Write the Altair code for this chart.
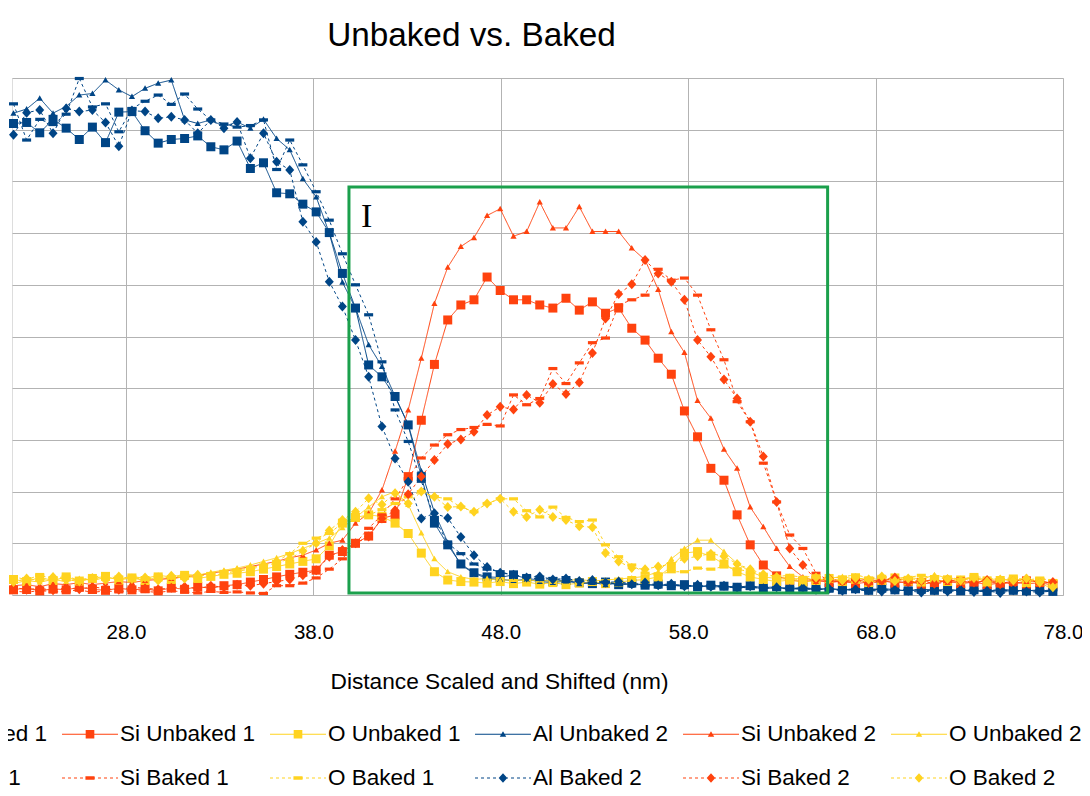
import altair as alt
import pandas as pd

# ---------------- data ----------------
distance_nm = [22.00, 22.70, 23.40, 24.11, 24.81, 25.51, 26.21, 26.91, 27.62, 28.32,
               29.02, 29.72, 30.42, 31.13, 31.83, 32.53, 33.23, 33.93, 34.64, 35.34,
               36.04, 36.74, 37.44, 38.15, 38.85, 39.55, 40.25, 40.95, 41.66, 42.36,
               43.06, 43.76, 44.46, 45.17, 45.87, 46.57, 47.27, 47.97, 48.68, 49.38,
               50.08, 50.78, 51.48, 52.19, 52.89, 53.59, 54.29, 54.99, 55.70, 56.40,
               57.10, 57.80, 58.50, 59.21, 59.91, 60.61, 61.31, 62.01, 62.72, 63.42,
               64.12, 64.82, 65.52, 66.23, 66.93, 67.63, 68.33, 69.03, 69.74, 70.44,
               71.14, 71.84, 72.54, 73.25, 73.95, 74.65, 75.35, 76.05, 76.76, 77.46]

al_unbaked_1 = [91.2, 91.4, 89.4, 92.0, 90.3, 88.1, 90.5, 87.5, 93.4, 93.5, 89.8, 87.4, 88.1, 88.3, 88.8, 86.7, 86.1, 87.8, 82.5, 83.6,
                77.8, 77.6, 75.6, 74.1, 70.1, 62.2, 55.5, 44.5, 42.2, 38.4, 32.9, 22.9, 13.9, 9.7, 6.0, 4.3, 3.5, 3.4, 3.9,
                3.2, 2.9, 2.6, 2.8, 2.4, 2.2, 2.5, 2.0, 2.3, 1.9, 2.1, 1.8, 2.0, 1.6, 1.9, 1.7, 1.5, 1.8, 1.4, 1.6,
                1.2, 1.5, 1.1, 1.3, 1.0, 1.2, 0.9, 1.3, 1.0, 0.8, 1.1, 0.9, 1.2, 0.8, 1.0, 0.7, 1.1, 0.9, 0.8, 1.0, 0.7]
si_unbaked_1 = [1.0, 1.4, 0.8, 1.2, 1.0, 1.5, 1.1, 0.9, 1.3, 1.0, 1.2, 0.8, 1.4, 1.1, 1.6, 1.3, 1.8, 2.0, 2.5, 3.0,
                3.5, 4.0, 4.4, 4.8, 7.7, 8.4, 10.0, 11.4, 14.8, 15.5, 22.9, 33.8, 44.6, 53.2, 56.1, 57.1, 61.5, 58.9, 57.1, 57.1,
                56.1, 55.5, 57.4, 55.1, 56.7, 54.5, 55.5, 51.6, 49.3, 45.8, 42.7, 35.6, 30.6, 24.5, 22.2, 15.5, 9.7, 5.8, 3.7, 2.9,
                2.6, 2.9, 2.4, 2.7, 2.2, 2.5, 2.8, 2.3, 2.6, 2.1, 2.4, 2.7, 2.2, 2.5, 2.0, 2.3, 2.6, 2.1, 2.4, 1.9]
o_unbaked_1 = [3.0, 2.6, 3.4, 2.8, 3.5, 2.7, 3.2, 3.6, 2.9, 3.3, 2.8, 3.5, 3.0, 3.8, 3.2, 3.6, 4.0, 4.2, 4.5, 5.0,
               5.5, 6.0, 6.5, 7.0, 9.5, 13.9, 15.0, 15.5, 15.2, 13.9, 11.9, 8.1, 4.5, 2.9, 2.6, 2.5, 2.3, 2.6, 2.2, 2.5,
               2.1, 2.4, 2.0, 2.3, 2.6, 2.2, 2.5, 2.8, 3.0, 3.5, 5.5, 8.1, 8.4, 7.5, 6.0, 4.5, 3.5, 3.0, 2.6, 2.9,
               2.5, 2.8, 3.2, 2.6, 3.0, 2.4, 2.8, 3.3, 2.7, 2.5, 3.0, 2.6, 2.9, 3.4, 2.5, 2.8, 3.1, 2.4, 2.7, 2.2]
al_unbaked_2 = [93.2, 94.0, 96.1, 93.2, 94.5, 96.7, 97.0, 99.6, 97.7, 96.4, 98.0, 99.0, 99.6, 91.9, 91.2, 91.9, 90.6, 91.5, 90.3, 92.0,
                88.3, 86.1, 80.5, 77.0, 70.0, 60.5, 55.5, 48.4, 44.2, 38.4, 33.0, 24.0, 16.0, 10.2, 5.8, 4.2, 3.2, 3.0,
                2.8, 3.0, 2.6, 2.4, 2.7, 2.2, 2.4, 2.0, 2.3, 1.9, 2.1, 1.7, 2.0, 1.6, 1.8, 1.5, 1.7, 1.3, 1.6, 1.2,
                1.4, 1.1, 1.3, 1.0, 1.2, 0.9, 1.1, 1.3, 0.9, 1.0, 0.8, 1.1, 0.9, 0.7, 1.0, 0.8, 0.6, 0.9, 0.7, 1.0, 0.6, 0.8]
si_unbaked_2 = [1.8, 2.0, 1.6, 2.2, 2.0, 2.4, 2.0, 2.3, 2.6, 2.4, 2.8, 3.0, 3.2, 3.5, 3.8, 4.2, 4.6, 5.0, 5.5, 6.0,
                6.5, 7.2, 7.7, 8.7, 10.0, 10.6, 13.9, 15.8, 20.3, 27.8, 35.8, 45.8, 56.4, 63.4, 67.4, 69.1, 73.4, 74.7, 69.4, 70.3,
                76.0, 71.0, 71.0, 75.1, 70.3, 70.3, 70.3, 67.1, 64.8, 59.1, 50.9, 46.9, 37.6, 34.2, 28.2, 24.5, 17.0, 13.2, 9.0, 5.5,
                3.5, 2.6, 2.9, 2.4, 2.7, 3.1, 2.5, 2.8, 2.2, 2.6, 3.0, 2.4, 2.7, 2.3, 2.9, 2.5, 2.1, 2.6, 2.8, 2.2]
o_unbaked_2 = [2.2, 2.8, 2.5, 3.0, 2.6, 3.2, 2.8, 3.4, 3.0, 3.6, 3.2, 3.8, 3.5, 4.0, 3.8, 4.4, 4.8, 5.2, 5.8, 6.5,
               7.2, 8.0, 9.0, 10.0, 11.0, 13.0, 15.0, 17.0, 19.0, 20.0, 17.5, 12.0, 7.0, 4.5, 3.5, 3.0, 3.2, 2.8, 3.0, 2.7,
               2.9, 2.6, 2.8, 3.0, 2.7, 2.9, 3.1, 3.3, 3.6, 4.5, 7.0, 9.0, 10.6, 10.6, 8.4, 6.1, 4.5, 3.5, 3.2, 3.0,
               3.3, 2.9, 3.2, 3.6, 3.0, 3.4, 2.8, 3.2, 3.5, 3.0, 3.9, 3.3, 3.0, 3.4, 2.9, 3.2, 2.7, 3.1, 2.5, 1.0]
al_baked_1 = [95.0, 88.0, 92.0, 91.0, 93.0, 99.9, 94.4, 95.0, 89.6, 94.1, 95.5, 96.7, 94.9, 96.9, 94.0, 91.9, 91.1, 90.5, 90.8, 91.9,
              82.3, 88.0, 83.2, 78.0, 72.5, 66.0, 60.0, 54.2, 45.1, 35.8, 29.7, 22.0, 15.0, 10.0, 8.0, 6.0, 5.0, 4.5,
              3.8, 3.5, 3.0, 3.2, 2.6, 2.8, 2.3, 2.5, 2.0, 2.2, 1.8, 2.1, 1.7, 1.9, 1.5, 1.8, 1.4, 1.6, 1.3, 1.5,
              1.2, 1.4, 1.0, 1.3, 0.9, 1.2, 1.0, 0.8, 1.1, 0.9, 1.2, 0.8, 1.0, 0.7, 0.9, 1.1, 0.8, 1.0, 0.7, 0.9, 0.8, 1.0]
si_baked_1 = [0.8, 0.5, 0.9, 0.6, 0.7, 1.0, 0.5, 0.8, 0.6, 0.9, 0.7, 0.5, 0.8, 0.6, 0.4, 0.7, 0.5, 0.6, 0.4, 0.3,
              1.8, 1.8, 2.3, 3.3, 5.0, 7.0, 10.0, 12.9, 15.5, 18.6, 22.5, 26.5, 29.0, 31.0, 32.0, 32.4, 33.0, 32.7, 38.7, 36.8,
              38.0, 43.8, 40.9, 44.9, 48.8, 49.7, 56.1, 57.1, 58.0, 63.0, 60.9, 61.3, 58.0, 51.3, 45.5, 37.4, 33.5, 25.5, 18.0, 11.6,
              9.0, 4.2, 2.8, 2.5, 3.0, 2.2, 2.7, 3.2, 2.4, 2.9, 2.1, 2.6, 3.1, 2.3, 2.8, 2.0, 2.5, 3.3, 2.2, 2.6]
o_baked_1 = [3.5, 3.0, 3.8, 3.2, 3.6, 2.9, 3.4, 3.9, 3.1, 3.5, 3.0, 3.7, 3.3, 3.9, 3.5, 4.1, 4.5, 4.8, 5.3, 5.8,
             6.5, 8.0, 10.0, 11.0, 11.9, 13.9, 14.5, 15.5, 16.5, 17.7, 19.0, 20.0, 19.0, 18.6, 17.0, 16.1, 17.7, 18.6, 18.6, 16.3,
             15.1, 17.0, 15.0, 14.2, 14.5, 9.7, 7.4, 5.8, 4.2, 4.0, 4.5, 4.5, 5.2, 5.0, 5.5, 5.0, 4.5, 4.0, 3.6, 3.8,
             3.4, 3.7, 3.2, 3.5, 3.9, 3.3, 3.6, 3.1, 3.4, 3.8, 3.2, 3.5, 3.0, 3.6, 3.3, 3.0, 3.4, 2.9, 3.2, 2.8]
al_baked_2 = [89.0, 93.3, 93.8, 89.3, 94.1, 93.5, 93.8, 91.4, 86.8, 93.7, 93.5, 92.2, 92.5, 91.9, 89.3, 91.9, 90.3, 91.5, 84.5, 89.3,
              83.8, 82.2, 72.2, 68.3, 60.6, 55.8, 49.3, 42.2, 32.6, 26.4, 21.9, 14.8, 15.8, 14.9, 11.2, 7.7, 5.4, 4.3, 3.9,
              3.4, 3.6, 3.0, 3.2, 2.7, 2.9, 2.4, 2.6, 2.1, 2.4, 1.9, 2.2, 1.7, 2.0, 1.6, 1.8, 1.4, 1.7, 1.3, 1.5,
              1.1, 1.4, 1.0, 1.2, 0.8, 1.1, 0.9, 0.7, 1.0, 0.8, 0.5, 0.9, 0.7, 1.0, 0.6, 0.8, 0.4, 0.9, 0.7, 0.5, 0.8]
si_baked_2 = [1.5, 1.0, 1.3, 0.9, 1.4, 1.1, 1.6, 1.2, 1.0, 1.5, 1.3, 1.1, 1.4, 1.6, 1.2, 1.8, 1.5, 2.0, 1.8, 2.2,
              2.6, 3.0, 3.8, 4.8, 7.4, 8.7, 10.0, 11.3, 14.8, 16.4, 19.5, 22.9, 26.1, 29.2, 30.1, 31.6, 34.8, 36.4, 35.9, 38.7,
              37.2, 40.8, 38.9, 41.1, 46.8, 53.5, 58.2, 60.1, 64.8, 62.2, 60.6, 57.1, 49.3, 46.1, 41.7, 38.0, 33.5, 26.8, 18.0, 9.0,
              5.8, 2.9, 3.2, 2.6, 2.9, 2.3, 2.8, 3.4, 2.5, 2.7, 2.2, 3.0, 2.6, 2.4, 2.9, 2.1, 2.7, 3.1, 2.3, 2.5]
o_baked_2 = [2.5, 3.2, 2.8, 3.5, 3.0, 2.6, 3.3, 2.9, 3.6, 3.1, 3.4, 2.8, 3.7, 3.2, 3.9, 3.6, 4.2, 4.6, 5.0, 5.6,
             6.2, 7.0, 8.5, 10.0, 12.5, 14.5, 16.1, 18.7, 17.5, 19.7, 17.7, 20.0, 19.0, 17.0, 17.1, 16.1, 17.7, 18.6, 16.1, 15.1,
             16.5, 15.1, 14.5, 13.3, 13.1, 8.1, 6.5, 5.2, 5.0, 5.5, 6.0, 7.0, 7.5, 8.0, 7.5, 6.0, 5.0, 4.0, 3.5, 3.2,
             2.9, 3.4, 3.1, 2.8, 3.3, 3.0, 3.6, 2.7, 3.2, 2.9, 3.4, 3.1, 2.8, 3.3, 2.6, 3.0, 2.8, 3.2, 2.4, 1.5]

series_names = ["Al Unbaked 1", "Si Unbaked 1", "O Unbaked 1",
                "Al Unbaked 2", "Si Unbaked 2", "O Unbaked 2",
                "Al Baked 1", "Si Baked 1", "O Baked 1",
                "Al Baked 2", "Si Baked 2", "O Baked 2"]
series_values = [al_unbaked_1, si_unbaked_1, o_unbaked_1,
                 al_unbaked_2, si_unbaked_2, o_unbaked_2,
                 al_baked_1, si_baked_1, o_baked_1,
                 al_baked_2, si_baked_2, o_baked_2]

x_ticks = [28.0, 38.0, 48.0, 58.0, 68.0, 78.0]
box_x = [39.9, 65.44]
box_y = [0.4, 78.9]
box_label = "I"
label_pos = [40.85, 73.2]

# ---------------- styling ----------------
element_colors = {"Al": "#004586", "Si": "#ff420e", "O": "#ffd320"}
colors = [element_colors[n.split()[0]] for n in series_names]
dashes = [[1, 0] if "Unbaked" in n else [3, 3] for n in series_names]

marker_paths_by_kind = {
    "U1": "M-0.9,-0.9H0.9V0.9H-0.9Z",
    "U2": "M0,-0.6L0.62,0.5H-0.62Z",
    "B1": "M-0.9,-0.32H0.9V0.32H-0.9Z",
    "B2": "M0,-1L0.9,0L0,1L-0.9,0Z",
}
legend_marker_by_kind = {
    "U1": "M-0.36,-0.36H0.36V0.36H-0.36Z",
    "U2": "M0,-0.25L0.27,0.2H-0.27Z",
    "B1": "M-0.38,-0.14H0.38V0.14H-0.38Z",
    "B2": "M0,-0.4L0.36,0L0,0.4L-0.36,0Z",
}


def kind(name):
    return ("U" if "Unbaked" in name else "B") + name[-1]


def legend_path(name):
    half = 2.333
    h = 0.045
    if "Unbaked" in name:
        line = f"M{-half},{-h}H{half}V{h}H{-half}Z"
    else:
        line = ""
        a = -half
        while a < half:
            b = min(a + 0.25, half)
            line += f"M{a:.3f},{-h}H{b:.3f}V{h}H{a:.3f}Z"
            a += 0.5
    return line + legend_marker_by_kind[kind(name)]


marker_paths = [marker_paths_by_kind[kind(n)] for n in series_names]
legend_paths = [legend_path(n) for n in series_names]

rows = []
for name, vals in zip(series_names, series_values):
    for xv, yv in zip(distance_nm, vals):
        rows.append({"series": name, "x": xv, "y": yv})
df = pd.DataFrame(rows)

FONT = "Liberation Sans"

x_scale = alt.Scale(domain=[21.92, 78.0], nice=False, zero=False)
y_scale = alt.Scale(domain=[0, 100], nice=False, zero=False)

x_axis = alt.Axis(values=x_ticks, format=".1f", grid=True, gridColor="#b3b3b3", gridWidth=1,
                  domain=False, ticks=False, labelFont=FONT, labelFontSize=20.5,
                  labelColor="black", labelPadding=27, labelFlush=False,
                  title="Distance Scaled and Shifted (nm)", titleFont=FONT, titleFontSize=22.7,
                  titleFontWeight="normal", titleColor="black", titleX=487, titleY=93,
                  titleAlign="center", titleBaseline="alphabetic")
y_axis = alt.Axis(values=list(range(0, 101, 10)), grid=True, gridColor="#b3b3b3", gridWidth=1,
                  labels=False, ticks=False, domain=False, title=None)

color_scale = alt.Scale(domain=series_names, range=colors)

base = alt.Chart(df)

lines = base.mark_line(strokeWidth=1).encode(
    x=alt.X("x:Q", scale=x_scale, axis=x_axis),
    y=alt.Y("y:Q", scale=y_scale, axis=y_axis),
    color=alt.Color("series:N", scale=color_scale, legend=None),
    strokeDash=alt.StrokeDash("series:N", scale=alt.Scale(domain=series_names, range=dashes), legend=None),
)

points = base.mark_point(filled=True, opacity=1, size=100, strokeWidth=0).encode(
    x="x:Q",
    y="y:Q",
    color=alt.Color("series:N", scale=color_scale, legend=None),
    shape=alt.Shape("series:N", scale=alt.Scale(domain=series_names, range=marker_paths), legend=None),
)

leg = alt.Legend(title=None, orient="none", legendX=-142, legendY=644, direction="horizontal",
                 columns=6, labelFont=FONT, labelFontSize=22.5, labelColor="black", labelLimit=400,
                 symbolSize=576, symbolStrokeWidth=0, symbolOpacity=1, labelOffset=18,
                 columnPadding=14, rowPadding=20, padding=0)

legend_layer = base.transform_filter("datum.x < -1000").mark_point(filled=True, opacity=1).encode(
    x="x:Q",
    y="y:Q",
    fill=alt.Fill("series:N", scale=alt.Scale(domain=series_names, range=colors), legend=leg),
    shape=alt.Shape("series:N", scale=alt.Scale(domain=series_names, range=legend_paths), legend=leg),
)

box_df = pd.DataFrame({"x0": [box_x[0]], "x1": [box_x[1]], "y0": [box_y[0]], "y1": [box_y[1]]})
box = alt.Chart(box_df).mark_rect(fillOpacity=0, stroke="#1ba04c", strokeWidth=3).encode(
    x="x0:Q", x2="x1:Q", y="y0:Q", y2="y1:Q"
)

label_df = pd.DataFrame({"x": [label_pos[0]], "y": [label_pos[1]], "t": [box_label]})
label = alt.Chart(label_df).mark_text(font="Liberation Serif", fontSize=34, color="black",
                                       align="center", baseline="middle").encode(
    x="x:Q", y="y:Q", text="t:N"
)

chart = alt.layer(lines, points, legend_layer, box, label).resolve_scale(
    shape="independent", fill="independent"
).properties(
    width=1051,
    height=517,
    title=alt.TitleParams("Unbaked vs. Baked", font=FONT, fontSize=33.3, fontWeight="normal",
                          color="black", anchor="middle", frame="group", dx=-66, offset=23),
    autosize=alt.AutoSizeParams(type="none"),
    padding={"left": 4, "top": 70, "right": 19, "bottom": 193},
).configure_view(stroke="transparent").configure(background="white")

chart.save("out.html", embed_options={"renderer": "svg", "actions": False})
